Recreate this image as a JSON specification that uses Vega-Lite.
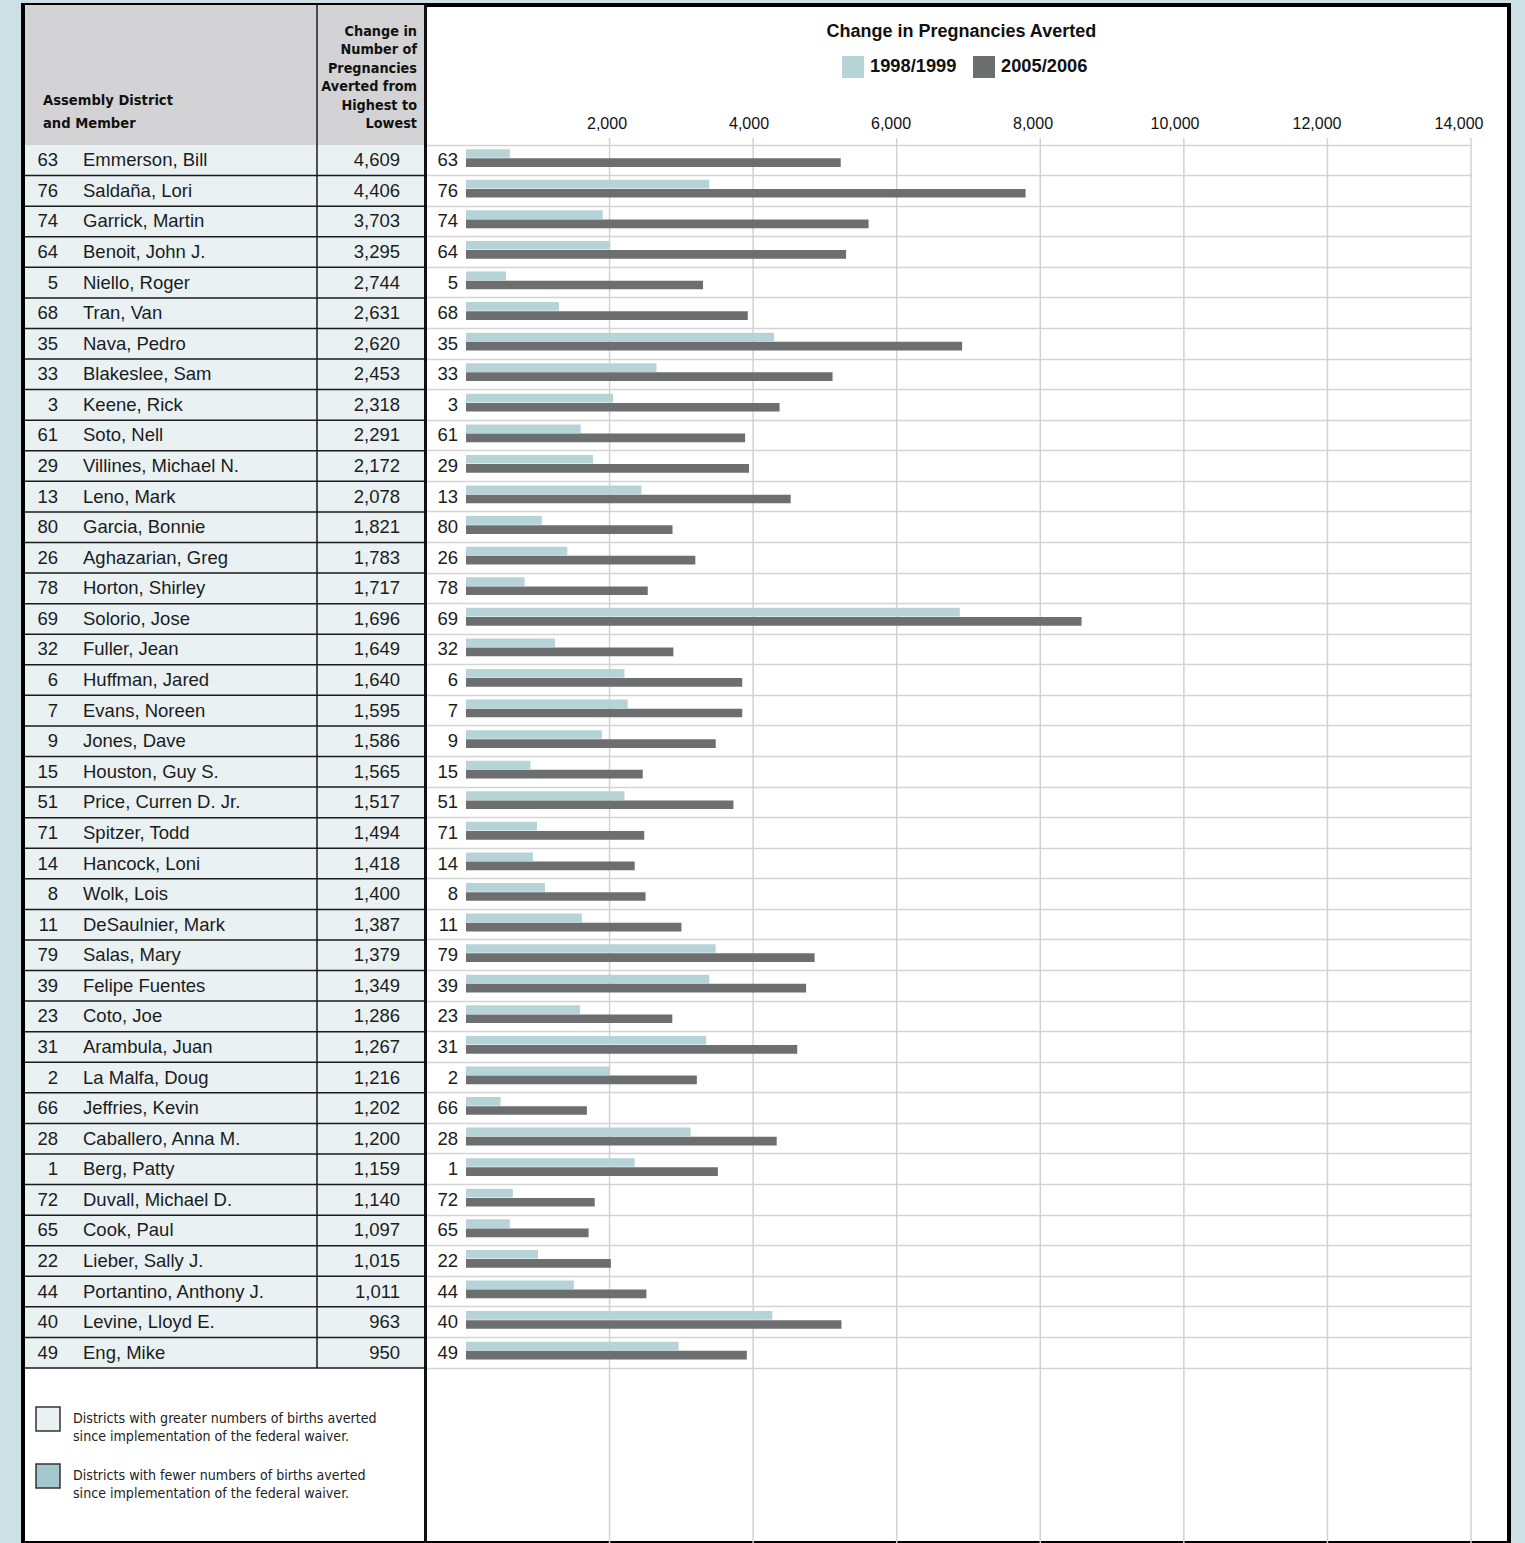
{
  "$schema": "https://vega.github.io/schema/vega-lite/v6.json",
  "width": 1486,
  "height": 1538,
  "autosize": {"type": "none"},
  "padding": {"left": 23, "top": 5, "right": 16, "bottom": 0},
  "background": "#cde1e4",
  "config": {
    "view": {"fill": "white", "stroke": "#000000", "strokeWidth": 4},
    "font": "Liberation Sans",
    "text": {"font": "Liberation Sans", "fontSize": 18.5, "color": "#1c1c1c"},
    "style": {"guide-label": {"lineHeight": 18}}
  },
  "datasets": {
    "rows": [
      {"rank": 1, "district": 63, "member": "Emmerson, Bill", "change": 4609, "1998/1999": 611, "2005/2006": 5220, "cat": "greater"},
      {"rank": 2, "district": 76, "member": "Saldaña, Lori", "change": 4406, "1998/1999": 3389, "2005/2006": 7795, "cat": "greater"},
      {"rank": 3, "district": 74, "member": "Garrick, Martin", "change": 3703, "1998/1999": 1905, "2005/2006": 5608, "cat": "greater"},
      {"rank": 4, "district": 64, "member": "Benoit, John J.", "change": 3295, "1998/1999": 2000, "2005/2006": 5295, "cat": "greater"},
      {"rank": 5, "district": 5, "member": "Niello, Roger", "change": 2744, "1998/1999": 558, "2005/2006": 3302, "cat": "greater"},
      {"rank": 6, "district": 68, "member": "Tran, Van", "change": 2631, "1998/1999": 1294, "2005/2006": 3925, "cat": "greater"},
      {"rank": 7, "district": 35, "member": "Nava, Pedro", "change": 2620, "1998/1999": 4291, "2005/2006": 6911, "cat": "greater"},
      {"rank": 8, "district": 33, "member": "Blakeslee, Sam", "change": 2453, "1998/1999": 2653, "2005/2006": 5106, "cat": "greater"},
      {"rank": 9, "district": 3, "member": "Keene, Rick", "change": 2318, "1998/1999": 2050, "2005/2006": 4368, "cat": "greater"},
      {"rank": 10, "district": 61, "member": "Soto, Nell", "change": 2291, "1998/1999": 1597, "2005/2006": 3888, "cat": "greater"},
      {"rank": 11, "district": 29, "member": "Villines, Michael N.", "change": 2172, "1998/1999": 1770, "2005/2006": 3942, "cat": "greater"},
      {"rank": 12, "district": 13, "member": "Leno, Mark", "change": 2078, "1998/1999": 2445, "2005/2006": 4523, "cat": "greater"},
      {"rank": 13, "district": 80, "member": "Garcia, Bonnie", "change": 1821, "1998/1999": 1056, "2005/2006": 2877, "cat": "greater"},
      {"rank": 14, "district": 26, "member": "Aghazarian, Greg", "change": 1783, "1998/1999": 1412, "2005/2006": 3195, "cat": "greater"},
      {"rank": 15, "district": 78, "member": "Horton, Shirley", "change": 1717, "1998/1999": 815, "2005/2006": 2532, "cat": "greater"},
      {"rank": 16, "district": 69, "member": "Solorio, Jose", "change": 1696, "1998/1999": 6879, "2005/2006": 8575, "cat": "greater"},
      {"rank": 17, "district": 32, "member": "Fuller, Jean", "change": 1649, "1998/1999": 1240, "2005/2006": 2889, "cat": "greater"},
      {"rank": 18, "district": 6, "member": "Huffman, Jared", "change": 1640, "1998/1999": 2208, "2005/2006": 3848, "cat": "greater"},
      {"rank": 19, "district": 7, "member": "Evans, Noreen", "change": 1595, "1998/1999": 2253, "2005/2006": 3848, "cat": "greater"},
      {"rank": 20, "district": 9, "member": "Jones, Dave", "change": 1586, "1998/1999": 1893, "2005/2006": 3479, "cat": "greater"},
      {"rank": 21, "district": 15, "member": "Houston, Guy S.", "change": 1565, "1998/1999": 897, "2005/2006": 2462, "cat": "greater"},
      {"rank": 22, "district": 51, "member": "Price, Curren D. Jr.", "change": 1517, "1998/1999": 2208, "2005/2006": 3725, "cat": "greater"},
      {"rank": 23, "district": 71, "member": "Spitzer, Todd", "change": 1494, "1998/1999": 989, "2005/2006": 2483, "cat": "greater"},
      {"rank": 24, "district": 14, "member": "Hancock, Loni", "change": 1418, "1998/1999": 932, "2005/2006": 2350, "cat": "greater"},
      {"rank": 25, "district": 8, "member": "Wolk, Lois", "change": 1400, "1998/1999": 1101, "2005/2006": 2501, "cat": "greater"},
      {"rank": 26, "district": 11, "member": "DeSaulnier, Mark", "change": 1387, "1998/1999": 1614, "2005/2006": 3001, "cat": "greater"},
      {"rank": 27, "district": 79, "member": "Salas, Mary", "change": 1379, "1998/1999": 3477, "2005/2006": 4856, "cat": "greater"},
      {"rank": 28, "district": 39, "member": "Felipe Fuentes", "change": 1349, "1998/1999": 3389, "2005/2006": 4738, "cat": "greater"},
      {"rank": 29, "district": 23, "member": "Coto, Joe", "change": 1286, "1998/1999": 1588, "2005/2006": 2874, "cat": "greater"},
      {"rank": 30, "district": 31, "member": "Arambula, Juan", "change": 1267, "1998/1999": 3347, "2005/2006": 4614, "cat": "greater"},
      {"rank": 31, "district": 2, "member": "La Malfa, Doug", "change": 1216, "1998/1999": 2000, "2005/2006": 3216, "cat": "greater"},
      {"rank": 32, "district": 66, "member": "Jeffries, Kevin", "change": 1202, "1998/1999": 482, "2005/2006": 1684, "cat": "greater"},
      {"rank": 33, "district": 28, "member": "Caballero, Anna M.", "change": 1200, "1998/1999": 3128, "2005/2006": 4328, "cat": "greater"},
      {"rank": 34, "district": 1, "member": "Berg, Patty", "change": 1159, "1998/1999": 2350, "2005/2006": 3509, "cat": "greater"},
      {"rank": 35, "district": 72, "member": "Duvall, Michael D.", "change": 1140, "1998/1999": 653, "2005/2006": 1793, "cat": "greater"},
      {"rank": 36, "district": 65, "member": "Cook, Paul", "change": 1097, "1998/1999": 611, "2005/2006": 1708, "cat": "greater"},
      {"rank": 37, "district": 22, "member": "Lieber, Sally J.", "change": 1015, "1998/1999": 1003, "2005/2006": 2018, "cat": "greater"},
      {"rank": 38, "district": 44, "member": "Portantino, Anthony J.", "change": 1011, "1998/1999": 1502, "2005/2006": 2513, "cat": "greater"},
      {"rank": 39, "district": 40, "member": "Levine, Lloyd E.", "change": 963, "1998/1999": 4267, "2005/2006": 5230, "cat": "greater"},
      {"rank": 40, "district": 49, "member": "Eng, Mike", "change": 950, "1998/1999": 2962, "2005/2006": 3912, "cat": "greater"}
    ],
    "ticks": [{"t": 2000}, {"t": 4000}, {"t": 6000}, {"t": 8000}, {"t": 10000}, {"t": 12000}, {"t": 14000}]
  },
  "resolve": {"scale": {"x": "independent", "y": "independent"}},
  "layer": [
    {
      "data": {"values": [{"part": "header"}]},
      "layer": [
        {
          "mark": {"type": "rect", "color": "#d3d3d5"},
          "encoding": {
            "y": {"field": "part", "type": "nominal", "axis": null,
                  "scale": {"type": "band", "domain": ["header"], "range": [0, 140], "paddingInner": 0, "paddingOuter": 0, "round": false}},
            "x": {"datum": 0, "type": "quantitative", "axis": null,
                  "scale": {"type": "linear", "domain": [0, 1], "range": [2, 402], "zero": false, "nice": false}},
            "x2": {"datum": 1}
          }
        },
        {
          "mark": {"type": "rule", "color": "#1a1a1a", "strokeWidth": 1.5},
          "encoding": {
            "x": {"datum": 0.73, "type": "quantitative", "axis": null},
            "y": {"field": "part", "type": "nominal", "bandPosition": 0, "axis": null},
            "y2": {"field": "part", "bandPosition": 1}
          }
        },
        {
          "mark": {"type": "text", "text": ["Assembly District", "and Member"], "font": "DejaVu Sans Condensed, Liberation Sans", "fontWeight": "bold", "fontSize": 14.6, "lineHeight": 23.3, "align": "left", "baseline": "alphabetic", "dy": -40, "color": "#111111"},
          "encoding": {
            "x": {"datum": 0.045, "type": "quantitative", "axis": null},
            "y": {"field": "part", "type": "nominal", "bandPosition": 1, "axis": null}
          }
        },
        {
          "mark": {"type": "text", "text": ["Change in", "Number of", "Pregnancies", "Averted from", "Highest to", "Lowest"], "font": "DejaVu Sans Condensed, Liberation Sans", "fontWeight": "bold", "fontSize": 14.3, "lineHeight": 18.5, "align": "right", "baseline": "alphabetic", "dy": -109.3, "color": "#111111"},
          "encoding": {
            "x": {"datum": 0.98, "type": "quantitative", "axis": null},
            "y": {"field": "part", "type": "nominal", "bandPosition": 1, "axis": null}
          }
        }
      ]
    },
    {
      "data": {"name": "rows"},
      "layer": [
        {
          "mark": {"type": "rect"},
          "encoding": {
            "y": {"field": "rank", "type": "ordinal", "axis": null,
                  "scale": {"type": "band", "domain": [1,2,3,4,5,6,7,8,9,10,11,12,13,14,15,16,17,18,19,20,21,22,23,24,25,26,27,28,29,30,31,32,33,34,35,36,37,38,39,40,41], "range": [140, 1393.575], "paddingInner": 0, "paddingOuter": 0, "round": false}},
            "x": {"datum": 0, "type": "quantitative", "axis": null,
                  "scale": {"type": "linear", "domain": [0, 1], "range": [2, 402], "zero": false, "nice": false}},
            "x2": {"datum": 1},
            "fill": {"field": "cat", "type": "nominal",
                     "scale": {"domain": ["greater", "fewer"], "range": ["#e9f1f3", "#a3c7cc"]},
                     "legend": {"orient": "none", "legendX": 12, "legendY": 1401, "direction": "vertical", "title": null, "padding": 0,
                                "symbolType": "square", "symbolSize": 576, "symbolStrokeColor": "#333333", "symbolStrokeWidth": 1.5,
                                "labelFont": "DejaVu Sans Condensed, Liberation Sans", "labelFontSize": 14.1, "labelColor": "#222222", "labelOffset": 12, "rowPadding": 16, "labelLimit": 0,
                                "labelExpr": "datum.label == 'greater' ? ['Districts with greater numbers of births averted', 'since implementation of the federal waiver.'] : ['Districts with fewer numbers of births averted', 'since implementation of the federal waiver.']"}}
          }
        },
        {
          "mark": {"type": "rule", "color": "#1a1a1a", "strokeWidth": 1.5},
          "encoding": {
            "y": {"field": "rank", "type": "ordinal", "bandPosition": 1, "axis": null},
            "x": {"datum": 0, "type": "quantitative", "axis": null},
            "x2": {"datum": 1}
          }
        },
        {
          "data": {"values": [{"line": "column"}]},
          "mark": {"type": "rule", "color": "#1a1a1a", "strokeWidth": 1.5},
          "encoding": {
            "x": {"datum": 0.73, "type": "quantitative", "axis": null},
            "y": {"datum": 1, "type": "ordinal", "bandPosition": 0, "axis": null},
            "y2": {"datum": 41, "bandPosition": 0}
          }
        },
        {
          "mark": {"type": "text", "align": "right", "baseline": "middle"},
          "encoding": {
            "y": {"field": "rank", "type": "ordinal", "axis": null},
            "x": {"datum": 0.0825, "type": "quantitative", "axis": null},
            "text": {"field": "district", "type": "nominal"}
          }
        },
        {
          "mark": {"type": "text", "align": "left", "baseline": "middle"},
          "encoding": {
            "y": {"field": "rank", "type": "ordinal", "axis": null},
            "x": {"datum": 0.145, "type": "quantitative", "axis": null},
            "text": {"field": "member", "type": "nominal"}
          }
        },
        {
          "mark": {"type": "text", "align": "right", "baseline": "middle"},
          "encoding": {
            "y": {"field": "rank", "type": "ordinal", "axis": null},
            "x": {"datum": 0.9375, "type": "quantitative", "axis": null},
            "text": {"field": "change", "type": "quantitative", "format": ","}
          }
        },
        {
          "data": {"values": [{"line": "divider"}]},
          "mark": {"type": "rule", "color": "#111111", "strokeWidth": 3},
          "encoding": {
            "x": {"datum": 1.00125, "type": "quantitative", "axis": null}
          }
        }
      ]
    },
    {
      "data": {"name": "ticks"},
      "mark": {"type": "rule", "color": "#d2d2d2", "strokeWidth": 1.5},
      "encoding": {
        "x": {"field": "t", "type": "quantitative", "axis": null,
              "scale": {"type": "linear", "domain": [0, 14000], "range": [443, 1448], "nice": false, "zero": true}},
        "y": {"datum": 1, "type": "ordinal", "bandPosition": -0.229, "axis": null,
              "scale": {"type": "band", "domain": [1,2,3,4,5,6,7,8,9,10,11,12,13,14,15,16,17,18,19,20,21,22,23,24,25,26,27,28,29,30,31,32,33,34,35,36,37,38,39,40,41], "range": [140, 1393.575], "paddingInner": 0, "paddingOuter": 0, "round": false}},
        "y2": {"datum": 41, "bandPosition": 5.73}
      }
    },
    {
      "data": {"name": "rows"},
      "transform": [{"fold": ["1998/1999", "2005/2006"], "as": ["series", "value"]}],
      "mark": {"type": "bar"},
      "encoding": {
        "y": {"field": "rank", "type": "ordinal",
              "scale": {"type": "band", "domain": [1,2,3,4,5,6,7,8,9,10,11,12,13,14,15,16,17,18,19,20,21,22,23,24,25,26,27,28,29,30,31,32,33,34,35,36,37,38,39,40,41], "range": [140, 1393.575], "paddingInner": 0, "paddingOuter": 0, "round": false},
              "axis": {"orient": "left", "offset": -443, "bandPosition": 0, "grid": true, "gridColor": "#d4d4d4", "gridWidth": 1.5, "ticks": true, "tickSize": 40, "tickColor": "#d4d4d4", "tickWidth": 1.5, "labels": false, "domain": false, "title": null}},
        "yOffset": {"field": "series", "type": "nominal",
                    "scale": {"domain": ["1998/1999", "2005/2006"], "range": [4.2, 22], "paddingInner": 0.05}},
        "x": {"field": "value", "type": "quantitative", "axis": null,
              "scale": {"type": "linear", "domain": [0, 14000], "range": [443, 1448], "nice": false, "zero": true}},
        "color": {"field": "series", "type": "nominal",
                  "scale": {"domain": ["1998/1999", "2005/2006"], "range": ["#b6d4d8", "#6d6e70"]},
                  "legend": {"orient": "none", "legendX": 819, "legendY": 51, "direction": "horizontal", "title": null, "padding": 0,
                             "symbolType": "square", "symbolSize": 484, "symbolStrokeWidth": 0,
                             "labelFont": "Liberation Sans", "labelFontWeight": "bold", "labelFontSize": 18.3, "labelColor": "#111111", "labelOffset": 6, "columnPadding": 16}}
      }
    },
    {
      "data": {"name": "rows"},
      "mark": {"type": "text", "align": "right", "baseline": "middle", "dx": -8},
      "encoding": {
        "x": {"datum": 0, "type": "quantitative", "axis": null,
              "scale": {"type": "linear", "domain": [0, 14000], "range": [443, 1448], "nice": false, "zero": true}},
        "y": {"field": "rank", "type": "ordinal", "axis": null,
              "scale": {"type": "band", "domain": [1,2,3,4,5,6,7,8,9,10,11,12,13,14,15,16,17,18,19,20,21,22,23,24,25,26,27,28,29,30,31,32,33,34,35,36,37,38,39,40,41], "range": [140, 1393.575], "paddingInner": 0, "paddingOuter": 0, "round": false}},
        "text": {"field": "district", "type": "nominal"}
      }
    },
    {
      "data": {"name": "ticks"},
      "mark": {"type": "text", "align": "center", "baseline": "alphabetic", "dy": -16, "fontSize": 16, "color": "#111111"},
      "encoding": {
        "x": {"field": "t", "type": "quantitative", "axis": null,
              "scale": {"type": "linear", "domain": [0, 14000], "range": [442, 1436], "nice": false, "zero": true}},
        "y": {"datum": 1, "type": "ordinal", "bandPosition": 0, "axis": null,
              "scale": {"type": "band", "domain": [1,2,3,4,5,6,7,8,9,10,11,12,13,14,15,16,17,18,19,20,21,22,23,24,25,26,27,28,29,30,31,32,33,34,35,36,37,38,39,40,41], "range": [140, 1393.575], "paddingInner": 0, "paddingOuter": 0, "round": false}},
        "text": {"field": "t", "type": "quantitative", "format": ","}
      }
    },
    {
      "data": {"values": [{"label": "Change in Pregnancies Averted"}]},
      "mark": {"type": "text", "fontWeight": "bold", "fontSize": 18, "align": "center", "baseline": "alphabetic", "dy": -108.5, "color": "#111111"},
      "encoding": {
        "x": {"datum": 6900, "type": "quantitative", "axis": null,
              "scale": {"type": "linear", "domain": [0, 14000], "range": [443, 1448], "nice": false, "zero": true}},
        "y": {"datum": 1, "type": "ordinal", "bandPosition": 0, "axis": null,
              "scale": {"type": "band", "domain": [1,2,3,4,5,6,7,8,9,10,11,12,13,14,15,16,17,18,19,20,21,22,23,24,25,26,27,28,29,30,31,32,33,34,35,36,37,38,39,40,41], "range": [140, 1393.575], "paddingInner": 0, "paddingOuter": 0, "round": false}},
        "text": {"field": "label", "type": "nominal"}
      }
    }
  ]
}
